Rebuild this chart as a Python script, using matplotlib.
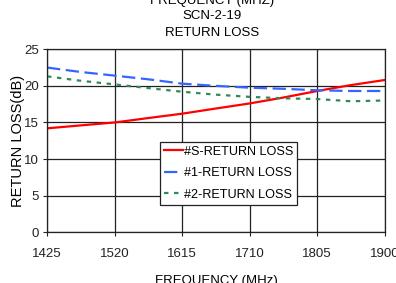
import matplotlib
matplotlib.use("Agg")
import matplotlib.pyplot as plt

plt.rcParams['font.family'] = ['Liberation Sans', 'DejaVu Sans']

freq = [1425, 1472, 1520, 1567, 1615, 1662, 1710, 1757, 1805, 1852, 1900]
s_rl = [14.2, 14.6, 15.0, 15.6, 16.2, 16.9, 17.6, 18.4, 19.3, 20.1, 20.8]
n1_rl = [22.5, 21.9, 21.4, 20.9, 20.3, 20.0, 19.75, 19.6, 19.4, 19.3, 19.3]
n2_rl = [21.3, 20.7, 20.2, 19.7, 19.2, 18.8, 18.5, 18.3, 18.2, 17.9, 18.0]

xticks = [1425, 1520, 1615, 1710, 1805, 1900]
yticks = [0, 5, 10, 15, 20, 25]

fig = plt.figure(figsize=(3.96, 2.83), dpi=100)
ax = fig.add_axes([0.1187, 0.179, 0.853, 0.647])

ax.plot(freq, s_rl, color='#ff0000', linewidth=1.6, label='#S-RETURN LOSS')
ax.plot(freq, n1_rl, color='#3366ff', linewidth=1.6, linestyle=(0, (6, 2.5)),
        label='#1-RETURN LOSS')
ax.plot(freq, n2_rl, color='#2e8b57', linewidth=1.6, linestyle=(0, (2, 2.5)),
        label='#2-RETURN LOSS')

ax.set_xlim(1425, 1900)
ax.set_ylim(0, 25)
ax.set_xticks(xticks)
ax.set_yticks(yticks)
ax.grid(True, color='#222222', linewidth=0.9)
ax.tick_params(labelsize=9.5, length=3, width=0.8, colors='#222222')
ax.tick_params(axis='x', pad=8)
ax.tick_params(axis='y', pad=3)
for sp in ax.spines.values():
    sp.set_color('#222222')
    sp.set_linewidth(0.9)

ax.set_ylabel('RETURN LOSS(dB)', fontsize=10.5, labelpad=-1)
ax.set_xlabel('FREQUENCY (MHz)', fontsize=9.5, labelpad=11)

fig.text(0.535, 0.995, 'FREQUENCY (MHZ)', ha='center', va='center', fontsize=9.5)
fig.text(0.535, 0.945, 'SCN-2-19', ha='center', va='center', fontsize=9.5)
fig.text(0.535, 0.885, 'RETURN LOSS', ha='center', va='center', fontsize=9.5)

leg = ax.legend(loc='upper left', bbox_to_anchor=(0.334, 0.493), fontsize=9.1,
                frameon=True, fancybox=False, handlelength=1.5, handletextpad=0.1,
                borderpad=0.3, labelspacing=0.75, borderaxespad=0)
leg.get_frame().set_edgecolor('#222222')
leg.get_frame().set_linewidth(0.9)
leg.get_frame().set_alpha(1)

fig.savefig('out.png', dpi=100)
